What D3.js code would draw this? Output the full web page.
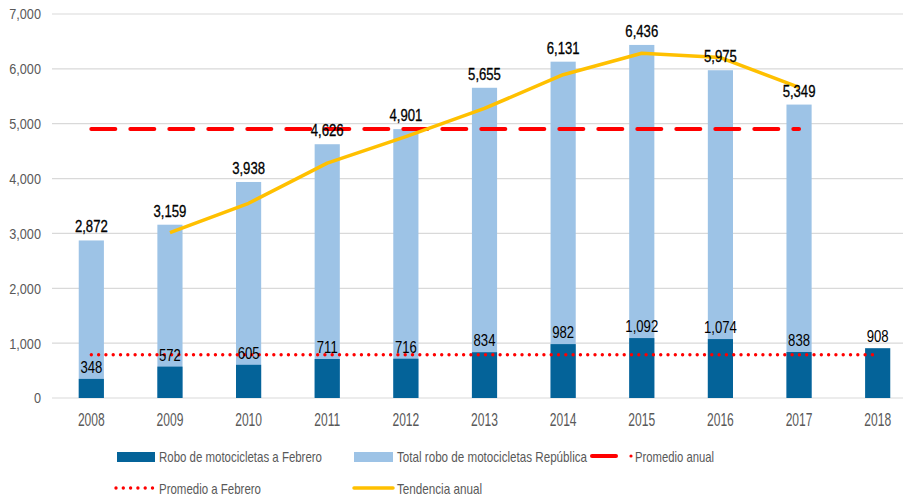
<!DOCTYPE html>
<html><head><meta charset="utf-8">
<script src="https://cdn.jsdelivr.net/npm/d3@7"></script>
<style>
body{margin:0;background:#fff;}
text{font-family:"Liberation Sans",Arial,sans-serif;}
</style></head>
<body><svg id="c" width="903" height="499"></svg>
<script>
const years = ["2008","2009","2010","2011","2012","2013","2014","2015","2016","2017","2018"];
const febValues = [348,572,605,711,716,834,982,1092,1074,838,908];
const totalYears = ["2008","2009","2010","2011","2012","2013","2014","2015","2016","2017"];
const totalValues = [2872,3159,3938,4626,4901,5655,6131,6436,5975,5349];
const trendYears = ["2009","2010","2011","2012","2013","2014","2015","2016","2017"];
const trendValues = [3016,3549,4282,4764,5278,5893,6284,6206,5662];
const promedioAnual = 4904;
const promedioFebrero = 789;
const yTicks = [0,1000,2000,3000,4000,5000,6000,7000];
const legendLabels = ["Robo de motocicletas a Febrero","Total robo de motocicletas República","Promedio anual","Promedio a Febrero","Tendencia anual"];

const SX = 0.82; // narrow font emulation
const svg = d3.select("#c");
const x = d3.scaleBand().domain(years).range([52,917]).paddingInner(0.68).paddingOuter(0.34);
const y = d3.scaleLinear().domain([0,7000]).range([398,14]);
const cx = d => x(d) + x.bandwidth()/2;
const fmt = d3.format(",");

function narrow(sel){
  sel.each(function(){
    const t = d3.select(this);
    const tx = +t.attr("x")||0, ty = +t.attr("y")||0;
    t.attr("x",null).attr("y",null)
     .attr("transform",`translate(${tx},${ty}) scale(${SX},1)`);
  });
}

// grid
svg.append("g").selectAll("line").data(yTicks).join("line")
  .attr("x1",52).attr("x2",903).attr("y1",d=>y(d)).attr("y2",d=>y(d))
  .attr("stroke","#d9d9d9").attr("stroke-width",1.2);
// y axis labels
const yAxis = d3.axisLeft(y).tickValues(yTicks).tickFormat(fmt).tickSize(0).tickPadding(0);
const ga = svg.append("g").attr("transform","translate(41,0)").call(yAxis);
ga.select(".domain").remove();
ga.selectAll("text").attr("font-size",15.5).attr("fill","#595959").attr("font-family",null)
  .attr("transform",`scale(${SX},1)`);
// x axis labels
const xAxis = d3.axisBottom(x).tickSize(0).tickPadding(0);
const gx = svg.append("g").attr("transform","translate(0,413.5)").call(xAxis);
gx.select(".domain").remove();
gx.selectAll("text").attr("font-size",17.5).attr("fill","#595959").attr("font-family",null)
  .attr("transform",`scale(0.69,1)`);

// total bars
svg.append("g").selectAll("rect").data(totalYears).join("rect")
  .attr("x",d=>x(d)).attr("width",x.bandwidth())
  .attr("y",(d,i)=>y(totalValues[i])).attr("height",(d,i)=>y(0)-y(totalValues[i]))
  .attr("fill","#9dc3e6");
// feb bars
svg.append("g").selectAll("rect").data(years).join("rect")
  .attr("x",d=>x(d)).attr("width",x.bandwidth())
  .attr("y",(d,i)=>y(febValues[i])).attr("height",(d,i)=>y(0)-y(febValues[i]))
  .attr("fill","#046399");

// promedio anual
svg.append("line").attr("x1",cx("2008")).attr("x2",cx("2017"))
  .attr("y1",y(promedioAnual)).attr("y2",y(promedioAnual))
  .attr("stroke","#ff0000").attr("stroke-width",4).attr("stroke-dasharray","24 15").attr("stroke-linecap","round");
// promedio febrero
svg.append("line").attr("x1",cx("2008")).attr("x2",cx("2018"))
  .attr("y1",y(promedioFebrero)).attr("y2",y(promedioFebrero))
  .attr("stroke","#ff0000").attr("stroke-width",3.4).attr("stroke-dasharray","0 7.3").attr("stroke-linecap","round");
// trend
const line = d3.line().x(d=>cx(d[0])).y(d=>y(d[1]));
svg.append("path").datum(trendYears.map((d,i)=>[d,trendValues[i]]))
  .attr("d",line).attr("fill","none").attr("stroke","#ffc000").attr("stroke-width",3.5).attr("stroke-linejoin","round");

// labels
svg.append("g").selectAll("text").data(totalYears).join("text")
  .attr("x",d=>cx(d)).attr("y",(d,i)=>y(totalValues[i])-8)
  .attr("text-anchor","middle").attr("font-size",16).attr("fill","#000")
  .attr("stroke","#000").attr("stroke-width",0.3)
  .text((d,i)=>fmt(totalValues[i])).call(narrow);
svg.append("g").selectAll("text").data(years).join("text")
  .attr("x",d=>cx(d)).attr("y",(d,i)=>y(febValues[i])-6)
  .attr("text-anchor","middle").attr("font-size",16).attr("fill","#000")
  .text((d,i)=>fmt(febValues[i])).call(narrow);

// legend
const lg = svg.append("g").attr("font-size",15).attr("fill","#595959");
function ltext(xp, yp, s, w){
  lg.append("text").attr("x",xp).attr("y",yp).attr("textLength",w).attr("lengthAdjust","spacingAndGlyphs").text(s);
}
lg.append("rect").attr("x",117).attr("y",452).attr("width",38).attr("height",10).attr("fill","#046399");
ltext(159,462,legendLabels[0],163);
lg.append("rect").attr("x",354).attr("y",452).attr("width",39).attr("height",10).attr("fill","#9dc3e6");
ltext(397,462,legendLabels[1],190);
lg.append("line").attr("x1",592).attr("x2",616).attr("y1",456).attr("y2",456).attr("stroke","#ff0000").attr("stroke-width",4).attr("stroke-linecap","round");
lg.append("circle").attr("cx",631).attr("cy",456).attr("r",1.6).attr("fill","#ff0000");
ltext(635,462,legendLabels[2],79);
lg.append("line").attr("x1",116).attr("x2",154).attr("y1",488).attr("y2",488).attr("stroke","#ff0000").attr("stroke-width",3.4).attr("stroke-dasharray","0 7.3").attr("stroke-linecap","round");
ltext(159,494,legendLabels[3],102);
lg.append("line").attr("x1",354).attr("x2",393).attr("y1",488).attr("y2",488).attr("stroke","#ffc000").attr("stroke-width",3.5).attr("stroke-linecap","round");
ltext(397,494,legendLabels[4],85);
</script></body></html>
